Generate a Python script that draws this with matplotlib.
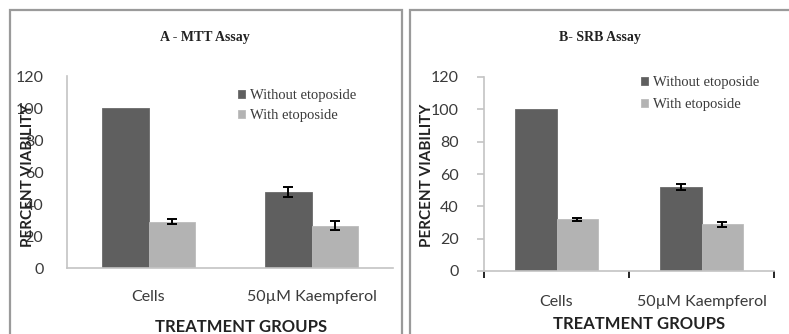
import matplotlib
matplotlib.use("Agg")
import matplotlib.pyplot as plt
import numpy as np
from matplotlib.patches import Rectangle, Patch

# Data
groups = ["Cells", "50\u00b5M Kaempferol"]
series = ["Without etoposide", "With etoposide"]
mtt_without = [100, 47.5]
mtt_without_err = [0, 3]
mtt_with = [29, 26.5]
mtt_with_err = [1.5, 3]
srb_without = [100, 52]
srb_without_err = [0, 1.8]
srb_with = [32, 29]
srb_with_err = [1.0, 1.6]
yticks = [0, 20, 40, 60, 80, 100, 120]

DARK = "#5f5f5f"
LIGHT = "#b3b3b3"
AXIS = "#c4c4c4"
TXT = "#3a3a3a"

W, H = 789, 334
fig = plt.figure(figsize=(W / 100, H / 100), dpi=100)

def px_rect(x0, y0, x1, y1):
    return [x0 / W, 1 - y1 / H, (x1 - x0) / W, (y1 - y0) / H]

# Panel frames
for (x0, x1) in [(10, 402), (410, 800)]:
    fig.patches.append(Rectangle((x0 / W, -0.1), (x1 - x0) / W, (1 - 10 / H) + 0.1,
                                 transform=fig.transFigure, fill=False,
                                 edgecolor="#9a9a9a", linewidth=1.6))

sans = ["Lato", "DejaVu Sans"]
serif = ["Liberation Serif", "DejaVu Serif"]

def panel(rect, title, title_xy, without, without_err, with_, with_err,
          ticks_on, leg_xy, leg_gap, ylab_x, xlab_x, xlab_y, xtl_pad, ytl_pad):
    ax = fig.add_axes(px_rect(*rect))
    x = np.arange(len(groups))
    bw = 0.286
    ax.bar(x - bw / 2, without, bw, color=DARK, edgecolor="#6a6a6a", linewidth=0.6,
           label=series[0], zorder=2)
    ax.bar(x + bw / 2, with_, bw, color=LIGHT, edgecolor="#bcbcbc", linewidth=0.6,
           label=series[1], zorder=2)
    for xs, vals, errs in [(x - bw / 2, without, without_err), (x + bw / 2, with_, with_err)]:
        for xi, v, e in zip(xs, vals, errs):
            if e > 0:
                ax.errorbar(xi, v, yerr=e, fmt="none", ecolor="black",
                            elinewidth=1.4, capsize=3.5, capthick=1.4, zorder=3)
    ax.set_xlim(-0.5, 1.5)
    ax.set_ylim(0, 120)
    ax.set_yticks(yticks)
    ax.set_xticks(x)
    ax.set_xticklabels(groups)
    for s in ["top", "right"]:
        ax.spines[s].set_visible(False)
    for s in ["left", "bottom"]:
        ax.spines[s].set_color(AXIS)
        ax.spines[s].set_linewidth(1.2)
    ax.tick_params(axis="both", labelsize=11.5, labelcolor=TXT, colors=AXIS)
    for lab in ax.get_xticklabels() + ax.get_yticklabels():
        lab.set_family(sans)
        lab.set_color(TXT)
    if ticks_on:
        ax.tick_params(axis="y", length=5, width=1.2, pad=ytl_pad)
        ax.set_xticks([-0.5, 0.5, 1.5], minor=True)
        ax.tick_params(axis="x", which="minor", length=5, width=1.2)
        ax.tick_params(axis="x", which="major", length=0, pad=xtl_pad)
    else:
        ax.tick_params(axis="y", length=0, pad=ytl_pad)
        ax.tick_params(axis="x", length=0, pad=xtl_pad)
    fig.text(title_xy[0] / W, 1 - title_xy[1] / H, title, ha="center", va="center",
             fontsize=10, fontweight="bold", family=serif, color="#222222")
    fig.text(ylab_x / W, 1 - 175 / H, "PERCENT VIABILITY", rotation=90, ha="center",
             va="center", fontsize=11, fontweight="bold", family=sans, color="#222222")
    fig.text(xlab_x / W, 1 - xlab_y / H, "TREATMENT GROUPS",
             ha="center", va="center", fontsize=12, fontweight="bold",
             family=sans, color="#222222")
    handles = [Patch(facecolor=DARK, edgecolor="#6a6a6a", linewidth=0.6),
               Patch(facecolor=LIGHT, edgecolor="#bcbcbc", linewidth=0.6)]
    leg = ax.legend(handles, series, loc="upper left",
                    bbox_to_anchor=(leg_xy[0] / W, 1 - leg_xy[1] / H),
                    bbox_transform=fig.transFigure, frameon=False, borderpad=0,
                    borderaxespad=0, handlelength=0.5, handleheight=0.5,
                    handletextpad=0.3, labelspacing=leg_gap,
                    prop={"family": serif, "size": 10.5})
    for t in leg.get_texts():
        t.set_color(TXT)
    return ax

panel((67, 76, 393, 268), "A - MTT Assay", (205, 37), mtt_without, mtt_without_err,
      mtt_with, mtt_with_err, False, (238, 89), 0.5, 28, 241, 327, 16, 17)
panel((484, 77, 774, 271), "B- SRB Assay", (600, 38), srb_without, srb_without_err,
      srb_with, srb_with_err, True, (641, 76), 0.65, 427, 639, 324, 17, 13)

fig.savefig("out.png", dpi=100)
